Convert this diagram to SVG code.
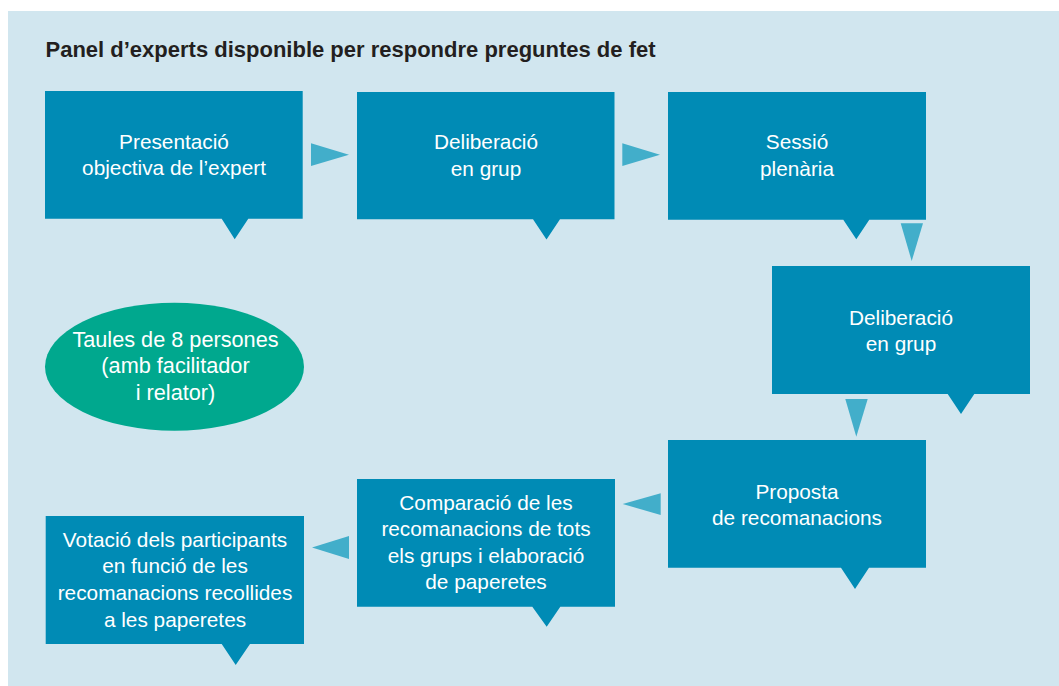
<svg xmlns="http://www.w3.org/2000/svg" width="1059" height="686" viewBox="0 0 1059 686">
<defs>
<style>
.panel{fill:#d1e6ef}
.box{fill:#008bb5}
.arr{fill:#42aeca}
.ell{fill:#00a88e}
.t{font-family:"Liberation Sans",Arial,Helvetica,sans-serif;font-size:20.8px;fill:#ffffff;text-anchor:middle}
.te{font-size:21.7px}
.title{font-family:"Liberation Sans",Arial,Helvetica,sans-serif;font-size:22px;font-weight:bold;fill:#231f20}
</style>
</defs>
<rect class="panel" x="8" y="11" width="1051" height="675"/>
<text class="title" x="45.5" y="57.3">Panel d’experts disponible per respondre preguntes de fet</text>

<g id="n1">
<path class="box" d="M45,91 H302.7 V218.7 H248.3 L234.7,239.3 L221.7,218.7 H45 Z"/>
<text class="t" x="174" y="149.3">Presentació</text>
<text class="t" x="174" y="175.3">objectiva de l’expert</text>
</g>
<g id="n2">
<path class="box" d="M357,92 H614.5 V219.3 H560 L546.5,239.5 L533,219.3 H357 Z"/>
<text class="t" x="486" y="149.3">Deliberació</text>
<text class="t" x="486" y="175.6">en grup</text>
</g>
<g id="n3">
<path class="box" d="M668,92 H926 V219.7 H869.3 L856.3,239.3 L843.3,219.7 H668 Z"/>
<text class="t" x="797" y="149.3">Sessió</text>
<text class="t" x="797" y="175.6">plenària</text>
</g>
<g id="n4">
<path class="box" d="M772,266 H1030 V394 H974.3 L961,414 L947.7,394 H772 Z"/>
<text class="t" x="901" y="324.5">Deliberació</text>
<text class="t" x="901" y="350.8">en grup</text>
</g>
<g id="n5">
<path class="box" d="M668,440 H926 V567.7 H869 L855,589 L841,567.7 H668 Z"/>
<text class="t" x="797" y="499">Proposta</text>
<text class="t" x="797" y="525.3">de recomanacions</text>
</g>
<g id="n6">
<path class="box" d="M357,479 H615 V606.7 H560.3 L546.7,626.7 L532.3,606.7 H357 Z"/>
<text class="t" x="486" y="510">Comparació de les</text>
<text class="t" x="486" y="536.3">recomanacions de tots</text>
<text class="t" x="486" y="562.6">els grups i elaboració</text>
<text class="t" x="486" y="589">de paperetes</text>
</g>
<g id="n7">
<path class="box" d="M45.7,516 H304 V644 H250 L235.7,665 L221.7,644 H45.7 Z"/>
<text class="t" x="175" y="546.7">Votació dels participants</text>
<text class="t" x="175" y="573.3">en funció de les</text>
<text class="t" x="175" y="600">recomanacions recollides</text>
<text class="t" x="175" y="626.7">a les paperetes</text>
</g>
<g id="n8">
<ellipse class="ell" cx="174.5" cy="366.7" rx="129.5" ry="64"/>
<text class="t te" x="175.5" y="346.7">Taules de 8 persones</text>
<text class="t te" x="175.5" y="373.3">(amb facilitador</text>
<text class="t te" x="175.5" y="400">i relator)</text>
</g>

<g id="connectors">
<polygon class="arr" points="311,143.3 349,154.7 311,166"/>
<polygon class="arr" points="622.3,143.3 660,154.7 622.3,166"/>
<polygon class="arr" points="900.7,223.3 923,223.3 911.7,261"/>
<polygon class="arr" points="845.3,399 867.7,399 856.3,436.7"/>
<polygon class="arr" points="660.7,493.3 622.7,504 660.7,515"/>
<polygon class="arr" points="349,536 312,547.5 349,559"/>
</g>
</svg>
